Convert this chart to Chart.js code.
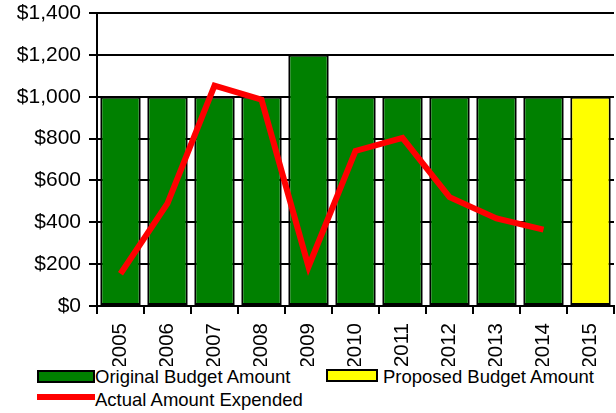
<!DOCTYPE html>
<html>
<head>
<meta charset="utf-8">
<script src="https://cdn.jsdelivr.net/npm/chart.js@4"></script>
<style>
  body { margin: 0; background: #fff; font-family: "Liberation Sans", Arial, sans-serif; }
  #wrap { position: relative; width: 616px; height: 413px; }
  #chart { position: absolute; left: 0; top: 0; }
  .leg { position: absolute; font-size: 18.5px; color: #000; line-height: 18px; white-space: nowrap; }
  .box { position: absolute; box-sizing: border-box; border: 2px solid #000; }
</style>
</head>
<body>
<div id="wrap">
  <canvas id="chart" width="616" height="366"></canvas>
  <div class="box" style="left:37px;top:370px;width:58px;height:13px;background:#008000"></div>
  <div class="leg" style="left:95px;top:368px">Original Budget Amount</div>
  <div class="box" style="left:326px;top:369px;width:52px;height:13px;background:#ffff00"></div>
  <div class="leg" style="left:383px;top:368px">Proposed Budget Amount</div>
  <div style="position:absolute;left:37px;top:394px;width:58px;height:6px;background:#ff0000"></div>
  <div class="leg" style="left:95px;top:391px">Actual Amount Expended</div>
</div>
<script>
// chart values
var years = ['2005', '2006', '2007', '2008', '2009', '2010', '2011', '2012', '2013', '2014', '2015'];
var originalBudget = [1000, 1000, 1000, 1000, 1200, 1000, 1000, 1000, 1000, 1000, null];
var proposedBudget = [null, null, null, null, null, null, null, null, null, null, 1000];
var actualSpent = [154, 490, 1053, 986, 188, 741, 803, 520, 418, 365, null];
var yTicks = [0, 200, 400, 600, 800, 1000, 1200, 1400];

Chart.defaults.font.family = '"Liberation Sans", Arial, sans-serif';
Chart.defaults.color = '#000';

const ctx = document.getElementById('chart').getContext('2d');
const myChart = new Chart(ctx, {
    data: {
        labels: years,
        datasets: [{
            type: 'line',
            label: 'Actual Amount Expended',
            data: actualSpent,
            borderColor: '#ff0000',
            borderWidth: 6,
            pointRadius: 0,
            tension: 0,
            order: 0
        }, {
            type: 'bar',
            label: 'Original Budget Amount',
            data: originalBudget,
            backgroundColor: '#008000',
            borderColor: '#000',
            borderWidth: 2,
            borderSkipped: false,
            grouped: false,
            barPercentage: 0.86,
            categoryPercentage: 1,
            order: 1
        }, {
            type: 'bar',
            label: 'Proposed Budget Amount',
            data: proposedBudget,
            backgroundColor: '#ffff00',
            borderColor: '#000',
            borderWidth: 2,
            borderSkipped: false,
            grouped: false,
            barPercentage: 0.86,
            categoryPercentage: 1,
            order: 1
        }]
    },
    options: {
        responsive: false,
        animation: false,
        layout: { padding: { top: 13, right: 2, left: 0, bottom: 0 } },
        plugins: {
            legend: { display: false },
            tooltip: { enabled: false }
        },
        scales: {
            x: {
                offset: true,
                grid: { drawOnChartArea: false, color: '#000', lineWidth: 2, tickLength: 8, offset: true },
                border: { color: '#000', width: 2 },
                ticks: { minRotation: 90, maxRotation: 90, font: { size: 20.5 }, padding: 9 },
                afterFit: function (scale) {
                    scale.height = 60;
                    scale.paddingLeft = 0;
                    scale.paddingRight = 0;
                }
            },
            y: {
                min: 0,
                max: 1400,
                grid: { color: '#000', lineWidth: 2, tickLength: 8 },
                border: { color: '#000', width: 2 },
                afterBuildTicks: function (scale) {
                    scale.ticks = yTicks.map(function (v) { return { value: v }; });
                },
                ticks: {
                    font: { size: 21 },
                    padding: 8,
                    callback: function (v) { return '$' + v.toLocaleString('en-US'); }
                },
                afterFit: function (scale) {
                    scale.width = 97;
                    scale.paddingTop = 0;
                    scale.paddingBottom = 0;
                }
            }
        }
    }
});
</script>
</body>
</html>
